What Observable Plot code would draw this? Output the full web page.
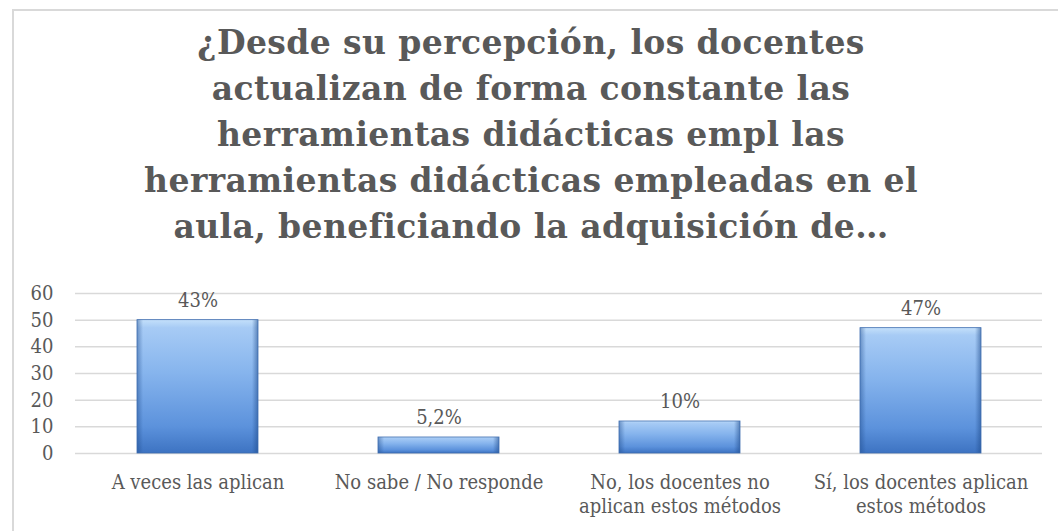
<!DOCTYPE html>
<html><head><meta charset="utf-8">
<script src="https://cdn.jsdelivr.net/npm/d3@7"></script>
<script src="https://cdn.jsdelivr.net/npm/@observablehq/plot@0.6"></script>
<style>
body{margin:0;background:#fff;width:1058px;height:531px;overflow:hidden;position:relative;font-family:"DejaVu Serif Condensed","DejaVu Serif",serif}
#frame{position:absolute;left:12px;top:9px;right:-5px;bottom:-5px;border-left:2px solid #d9d9d9;border-top:2px solid #d9d9d9}
#title{position:absolute;left:12px;width:1038px;top:20px;text-align:center;font-family:"DejaVu Serif",serif;font-weight:bold;font-size:33px;letter-spacing:0.4px;line-height:46px;color:#595959}
#chart{position:absolute;left:0;top:270px}
</style></head><body>
<div id="frame"></div>
<div id="title"></div>
<div id="chart"></div>
<script>
const titleLines = [
  "¿Desde su percepción, los docentes",
  "actualizan de forma constante las",
  "herramientas didácticas empl las",
  "herramientas didácticas empleadas en el",
  "aula, beneficiando la adquisición de…"
];
const categories = ["A veces las aplican", "No sabe / No responde", "No, los docentes no aplican estos métodos", "Sí, los docentes aplican estos métodos"];
const tickLabels = ["A veces las aplican", "No sabe / No responde", "No, los docentes no\naplican estos métodos", "Sí, los docentes aplican\nestos métodos"];
const values = [50, 6, 12, 47];
const valueLabels = ["43%", "5,2%", "10%", "47%"];
const yTicks = [0, 10, 20, 30, 40, 50, 60];

document.getElementById("title").innerHTML = titleLines.join("<br>");

const data = categories.map((c, i) => ({cat: c, value: values[i], label: valueLabels[i]}));
const font = "'DejaVu Serif Condensed', 'DejaVu Serif', serif";

const chart = Plot.plot({
  width: 1058,
  height: 261,
  marginLeft: 75,
  marginRight: 16,
  marginTop: 23,
  marginBottom: 78,
  style: {fontFamily: font, fontSize: "20px", color: "#595959", background: "transparent"},
  x: {domain: categories, paddingInner: 0.5, paddingOuter: 0.25, align: 0.5, label: null},
  y: {domain: [0, 60], label: null},
  marks: [
    Plot.ruleY(yTicks, {stroke: "#d9d9d9", strokeWidth: 1.5}),
    Plot.barY(data, {x: "cat", y: "value", fill: "url(#barGrad)"}),
    Plot.barY(data, {x: "cat", y: "value", fill: "url(#edgeGrad)", stroke: "#3c6cb0", strokeWidth: 0.8}),
    Plot.text(data, {x: "cat", y: "value", text: "label", dy: -20, fontSize: 20, fill: "#595959"}),
    Plot.axisY({ticks: yTicks, tickSize: 0, tickPadding: 22, fontSize: 20, fill: "#595959"}),
    Plot.axisX({tickSize: 0, tickPadding: 18, fontSize: 20, fill: "#595959", lineHeight: 1.2,
      tickFormat: d => tickLabels[categories.indexOf(d)]})
  ]
});

const svg = d3.select(chart);
const defs = svg.insert("defs", ":first-child");
const g1 = defs.append("linearGradient").attr("id", "barGrad").attr("x1", 0).attr("y1", 0).attr("x2", 0).attr("y2", 1);
[["0%", "#c4e0fa"], ["6%", "#a7cbf5"], ["40%", "#86b4ed"], ["80%", "#5c92dc"], ["100%", "#3d73c2"]]
  .forEach(([o, c]) => g1.append("stop").attr("offset", o).attr("stop-color", c));
const g2 = defs.append("linearGradient").attr("id", "edgeGrad").attr("x1", 0).attr("y1", 0).attr("x2", 1).attr("y2", 0);
[["0%", "#1e4a8a", 0.45], ["5%", "#1e4a8a", 0], ["95%", "#1e4a8a", 0], ["100%", "#1e4a8a", 0.55]]
  .forEach(([o, c, a]) => g2.append("stop").attr("offset", o).attr("stop-color", c).attr("stop-opacity", a));

document.getElementById("chart").appendChild(chart);
</script>
</body></html>
